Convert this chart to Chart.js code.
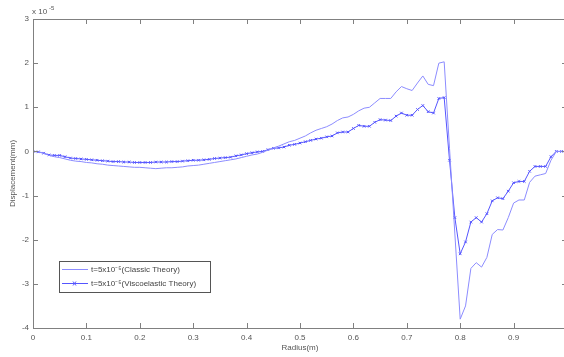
<!DOCTYPE html>
<html>
<head>
<meta charset="utf-8">
<script src="https://cdn.jsdelivr.net/npm/chart.js@4.4.1/dist/chart.umd.min.js"></script>
<style>
  html, body { margin: 0; padding: 0; background: #fff; overflow: hidden; }
  #wrap { width: 564px; height: 357px; overflow: hidden; }
  #wrap > div { width: 572px; height: 357px; }
</style>
</head>
<body>
<div id="wrap"><div><canvas id="c" width="572" height="357"></canvas></div></div>
<script>
// Radial positions (m), sampled every 0.01
const radius = [];
for (let i = 0; i < 100; i++) radius.push(+(i * 0.01).toFixed(2));

// Displacement (x 10^-5 mm), classic theory
const classic = [
  0, -0.01, -0.04, -0.09, -0.12, -0.14, -0.17, -0.20, -0.22, -0.23,
  -0.25, -0.26, -0.28, -0.29, -0.31, -0.32, -0.33, -0.34, -0.35, -0.36,
  -0.36, -0.37, -0.38, -0.39, -0.38, -0.37, -0.37, -0.36, -0.35, -0.33,
  -0.32, -0.31, -0.29, -0.27, -0.25, -0.23, -0.21, -0.19, -0.17, -0.14,
  -0.11, -0.08, -0.06, -0.02, 0.03, 0.08, 0.12, 0.17, 0.22, 0.25,
  0.30, 0.35, 0.42, 0.48, 0.52, 0.56, 0.62, 0.70, 0.76, 0.78,
  0.84, 0.92, 0.98, 1.00, 1.10, 1.20, 1.20, 1.20, 1.35, 1.47,
  1.42, 1.38, 1.55, 1.71, 1.52, 1.49, 2.00, 2.03, 0.07, -1.87,
  -3.80, -3.50, -2.65, -2.52, -2.62, -2.40, -1.88, -1.77, -1.78, -1.50,
  -1.17, -1.10, -1.10, -0.70, -0.56, -0.53, -0.50, -0.20, 0, 0
];

// Displacement (x 10^-5 mm), viscoelastic theory
const viscoelastic = [
  0, -0.01, -0.04, -0.08, -0.09, -0.09, -0.12, -0.15, -0.16, -0.17,
  -0.18, -0.19, -0.20, -0.21, -0.22, -0.23, -0.23, -0.24, -0.24, -0.25,
  -0.25, -0.25, -0.25, -0.24, -0.24, -0.24, -0.23, -0.23, -0.22, -0.21,
  -0.20, -0.20, -0.19, -0.18, -0.16, -0.15, -0.14, -0.13, -0.10, -0.08,
  -0.05, -0.03, -0.01, 0.00, 0.04, 0.07, 0.08, 0.10, 0.14, 0.16,
  0.19, 0.22, 0.25, 0.28, 0.30, 0.33, 0.35, 0.42, 0.44, 0.44,
  0.52, 0.59, 0.57, 0.57, 0.66, 0.72, 0.71, 0.70, 0.80, 0.87,
  0.82, 0.82, 0.95, 1.04, 0.90, 0.87, 1.20, 1.22, -0.20, -1.50,
  -2.32, -2.05, -1.60, -1.50, -1.60, -1.41, -1.12, -1.05, -1.07, -0.90,
  -0.71, -0.68, -0.68, -0.45, -0.34, -0.34, -0.34, -0.12, 0, 0
];

const xTicks = [0, 0.1, 0.2, 0.3, 0.4, 0.5, 0.6, 0.7, 0.8, 0.9, 1];
const yTicks = [-4, -3, -2, -1, 0, 1, 2, 3];

const seriesNames = ['t=5x10\u207B\u2075(Classic Theory)', 't=5x10\u207B\u2075(Viscoelastic Theory)'];
const classicColor = 'rgb(140,140,255)';
const viscoColor = 'rgb(85,85,255)';
const axisColor = '#808080';
const textColor = '#555';
const FONT = '"Liberation Sans", Arial, sans-serif';

const toPoints = vals => radius.map((r, i) => ({ x: r, y: vals[i] }));

// Frame, inward tick marks, exponent note and inset legend
const matlabAxes = {
  id: 'matlabAxes',
  afterDraw(chart) {
    const { ctx, chartArea: a, scales: { x, y } } = chart;
    ctx.save();
    ctx.strokeStyle = axisColor;
    ctx.lineWidth = 1;
    ctx.strokeRect(a.left + 0.5, a.top + 0.5, a.right - a.left, a.bottom - a.top);
    ctx.beginPath();
    xTicks.forEach(v => {
      const px = Math.round(x.getPixelForValue(v)) + 0.5;
      ctx.moveTo(px, a.bottom); ctx.lineTo(px, a.bottom - 5);
      ctx.moveTo(px, a.top); ctx.lineTo(px, a.top + 5);
    });
    yTicks.forEach(v => {
      const py = Math.round(y.getPixelForValue(v)) + 0.5;
      ctx.moveTo(a.left, py); ctx.lineTo(a.left + 5, py);
      ctx.moveTo(a.right, py); ctx.lineTo(a.right - 5, py);
    });
    ctx.stroke();

    // exponent note above the y axis
    ctx.fillStyle = textColor;
    ctx.textBaseline = 'alphabetic';
    ctx.textAlign = 'left';
    ctx.font = '8px ' + FONT;
    ctx.fillText('x 10', a.left - 1, a.top - 5);
    ctx.font = '6px ' + FONT;
    ctx.fillText('-5', a.left + 16, a.top - 9);

    // legend
    const lx = 59, ly = 261, lw = 151, lh = 31;
    ctx.fillStyle = '#fff';
    ctx.fillRect(lx, ly, lw, lh);
    ctx.strokeStyle = '#555';
    ctx.strokeRect(lx + 0.5, ly + 0.5, lw, lh);
    const rows = [
      { y: 269, color: classicColor, marker: false },
      { y: 283, color: viscoColor, marker: true }
    ];
    rows.forEach((r, i) => {
      ctx.strokeStyle = r.color;
      ctx.lineWidth = 1;
      ctx.beginPath();
      ctx.moveTo(62, r.y + 0.5); ctx.lineTo(88, r.y + 0.5);
      ctx.stroke();
      if (r.marker) {
        ctx.beginPath();
        ctx.moveTo(73, r.y - 1.5); ctx.lineTo(76, r.y + 2.5);
        ctx.moveTo(76, r.y - 1.5); ctx.lineTo(73, r.y + 2.5);
        ctx.stroke();
      }
      ctx.fillStyle = '#444';
      ctx.font = '8px ' + FONT;
      ctx.textBaseline = 'middle';
      ctx.fillText(seriesNames[i], 91, r.y + 1);
    });
    ctx.restore();
  }
};

new Chart(document.getElementById('c'), {
  type: 'scatter',
  data: {
    datasets: [
      {
        label: seriesNames[0],
        data: toPoints(classic),
        showLine: true,
        borderColor: classicColor,
        borderWidth: 1,
        pointRadius: 0,
        tension: 0
      },
      {
        label: seriesNames[1],
        data: toPoints(viscoelastic),
        showLine: true,
        borderColor: viscoColor,
        borderWidth: 1,
        pointStyle: 'crossRot',
        pointRadius: 1.8,
        pointBorderColor: viscoColor,
        pointBorderWidth: 1,
        tension: 0
      }
    ]
  },
  options: {
    responsive: false,
    animation: false,
    events: [],
    layout: { padding: { top: 19, right: 1, left: 0, bottom: 0 } },
    plugins: { legend: { display: false }, tooltip: { enabled: false } },
    scales: {
      x: {
        type: 'linear',
        min: 0,
        max: 1,
        afterBuildTicks: s => { s.ticks = xTicks.map(v => ({ value: v })); },
        afterFit: s => { s.height = 29; s.paddingRight = 0; },
        grid: { display: false, drawTicks: false },
        border: { display: false },
        ticks: {
          color: textColor,
          font: { family: FONT, size: 8 },
          padding: 5,
          maxRotation: 0,
          callback: v => (v >= 1 ? '' : String(Number(v.toFixed(1))))
        },
        title: {
          display: true,
          text: 'Radius(m)',
          color: textColor,
          font: { family: FONT, size: 8 },
          padding: { top: 2, bottom: 4 }
        }
      },
      y: {
        type: 'linear',
        min: -4,
        max: 3,
        afterBuildTicks: s => { s.ticks = yTicks.map(v => ({ value: v })); },
        afterFit: s => { s.width = 33; },
        grid: { display: false, drawTicks: false },
        border: { display: false },
        ticks: {
          color: textColor,
          font: { family: FONT, size: 8 },
          padding: 4,
          callback: v => String(v)
        },
        title: {
          display: true,
          text: 'Displacement(mm)',
          color: textColor,
          font: { family: FONT, size: 8 },
          padding: { top: 8, bottom: 0 }
        }
      }
    }
  },
  plugins: [matlabAxes]
});
</script>
</body>
</html>
